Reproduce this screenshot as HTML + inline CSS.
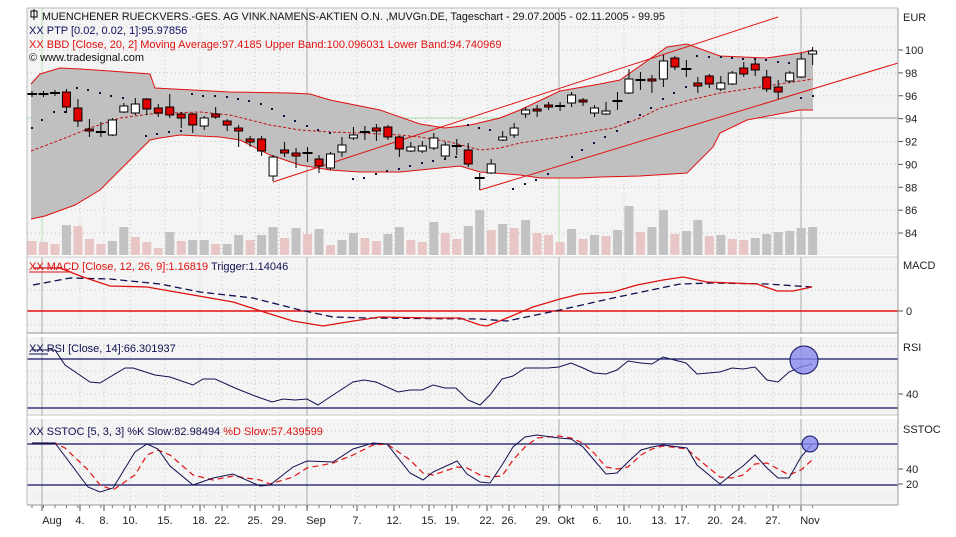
<!DOCTYPE html>
<html><head><meta charset="utf-8"><style>
html,body{margin:0;padding:0;background:#fff;}
svg{display:block;font-family:"Liberation Sans",sans-serif;}
</style></head><body>
<svg id="s" width="956" height="537" xmlns="http://www.w3.org/2000/svg">
<rect x="0" y="0" width="956" height="537" fill="#fff"/>
<rect x="27" y="8" width="871" height="497" fill="#f4f4f4"/>
<g id="g"></g>
</svg>
<script>
const g=document.getElementById('g');let h='';
const X=i=>32+i*11.48;
const pl=(pts,st,w,dash)=>`<polyline fill="none" stroke="${st}" stroke-width="${w||1}" ${dash?`stroke-dasharray="${dash}"`:''} points="${pts.map(p=>p.join(',')).join(' ')}"/>`;
const ticks=[[42,'Aug',52],[80,'4.',80],[104,'8.',104],[130,'10.',130],[165,'15.',165],[200,'18.',200],[222,'22.',222],[255,'25.',255],[279,'29.',279],[307,'Sep',316],[357,'7.',357],[394,'12.',394],[429,'15.',429],[452,'19.',452],[487,'22.',487],[509,'26.',509],[543,'29.',543],[559,'Okt',566],[597,'6.',597],[624,'10.',624],[659,'13.',659],[682,'17.',682],[715,'20.',715],[739,'24.',739],[773,'27.',773],[801,'Nov',810]];
for(const t of ticks){
 const major=['Aug','Sep','Okt','Nov'].includes(t[1]);
 h+=`<line x1="${t[0]}" y1="8" x2="${t[0]}" y2="505" stroke="${major?'#a8aca8':'#c8c8c8'}" stroke-width="1" ${major?'':'stroke-dasharray="1,3"'}/>`;
 h+=`<line x1="${t[0]}" y1="505" x2="${t[0]}" y2="511" stroke="#555"/>`;
 h+=`<text x="${t[2]}" y="524" font-size="11" text-anchor="middle" fill="#222">${t[1]}</text>`;
}
for(let i=0;i<69;i++)h+=`<line x1="${X(i)}" y1="505" x2="${X(i)}" y2="508" stroke="#777"/>`;
const py=p=>50+(100-p)*11.44;
for(let p=84;p<=102;p+=2){const y=py(p);h+=`<line x1="27" y1="${y}" x2="898" y2="${y}" stroke="#c8c8c8" stroke-dasharray="1,3"/>`;if(p<=100){h+=`<line x1="898" y1="${y}" x2="903" y2="${y}" stroke="#555"/><text x="905" y="${y+4}" font-size="11" fill="#222">${p}</text>`;}}
[269,290,325].forEach(y=>h+=`<line x1="27" y1="${y}" x2="898" y2="${y}" stroke="#c8c8c8" stroke-dasharray="1,3"/>`);
[346,371,383,394].forEach(y=>h+=`<line x1="27" y1="${y}" x2="898" y2="${y}" stroke="#c8c8c8" stroke-dasharray="1,3"/>`);
[431,457,469,496].forEach(y=>h+=`<line x1="27" y1="${y}" x2="898" y2="${y}" stroke="#c8c8c8" stroke-dasharray="1,3"/>`);
h+=`<line x1="27" y1="118" x2="559" y2="118" stroke="#a8e0a8"/><line x1="559" y1="118" x2="898" y2="118" stroke="#a0a0a0"/><line x1="42" y1="8" x2="42" y2="255" stroke="#b8e0b8"/><line x1="559" y1="118" x2="559" y2="255" stroke="#b8e0b8"/>`;
const vol=[241,242,244,225,226,239,244,241,227,237,242,248,232,241,240,240,244,244,235,240,235,227,238,228,234,229,245,240,233,238,241,234,227,240,242,222,233,239,226,210,230,224,228,220,233,235,242,229,239,235,236,230,206,232,227,210,234,231,220,236,235,239,240,238,234,232,231,228,227];
const vc=[1,1,1,0,1,1,1,0,0,1,1,1,0,1,0,0,1,0,0,1,0,0,1,0,1,0,1,0,0,1,1,0,0,1,1,0,1,1,0,0,1,0,1,0,1,1,1,0,1,0,1,0,0,1,0,0,1,0,0,1,0,1,1,0,0,0,0,0,0];
vol.forEach((v,i)=>h+=`<rect x="${X(i)-4.5}" y="${v}" width="9" height="${255-v}" fill="${vc[i]?'#e8c6c6':'#c2c2c2'}"/>`);
const up=[[31,84],[40,74],[60,68],[80,69],[110,71],[150,74],[155,88],[230,92],[290,93],[310,94],[330,100],[380,110],[420,124],[445,128],[470,125],[500,118],[520,110],[560,91],[600,84],[620,80],[667,47],[687,44],[720,56],[767,58],[800,53],[813,50]];
const lo=[[31,219],[45,216],[75,205],[100,190],[125,165],[150,140],[160,138],[180,135],[220,137],[240,140],[270,155],[300,165],[330,170],[360,172],[400,172],[440,168],[460,166],[480,172],[520,175],[540,178],[580,178],[600,177],[640,176],[687,173],[713,147],[720,133],[747,120],[800,110],[813,110]];
const mid=[[31,151],[60,140],[90,128],[120,118],[150,114],[170,113],[200,112],[230,115],[270,125],[300,130],[330,132],[360,133],[400,135],[420,137],[450,142],[480,150],[500,148],[520,143],[560,137],[600,130],[613,128],[640,118],[660,108],[690,100],[720,93],[760,87],[800,81],[813,79]];
h+=`<polygon fill="#c0c0c0" points="${up.concat(lo.slice().reverse()).map(p=>p.join(',')).join(' ')}"/>`;
h+=pl(up,'#e01010',1)+pl(lo,'#e01010',1)+pl(mid,'#c01010',1,'3,2');
h+=`<line x1="273" y1="182" x2="778" y2="17" stroke="#e01010"/><line x1="480" y1="190" x2="898" y2="63" stroke="#e01010"/>`;
const dots=[[32,128],[42,120],[54,112],[65,112],[77,88],[88,90],[100,93],[111,96],[123,98],[146,136],[157,134],[169,132],[181,131],[192,94],[203,96],[215,96],[227,97],[238,99],[249,101],[261,104],[272,109],[284,116],[295,121],[307,126],[318,130],[330,133],[353,179],[364,178],[376,174],[387,171],[399,169],[410,166],[422,163],[433,161],[445,159],[456,157],[468,125],[479,128],[490,130],[513,189],[525,184],[536,180],[548,174],[572,157],[582,150],[594,143],[605,137],[617,131],[628,122],[640,115],[651,108],[663,99],[674,93],[686,87],[697,56],[709,57],[721,57],[732,58],[743,59],[755,59],[766,60],[778,62],[789,63],[801,98],[813,96]];
dots.forEach(d=>h+=`<rect x="${d[0]-1}" y="${d[1]-1}" width="2" height="2" fill="#101040"/>`);
const c=[['d',94,94,91,97],['d',94,94,91,97],['d',93,93,90,96],['r',92,107,89,113],['r',108,121,99,127],['r',129,131,119,137],['d',132,132,122,137],['w',120,135,118,136],['w',106,112,103,113],['w',104,113,98,115],['r',99,109,98,115],['r',108,113,104,117],['r',107,115,94,118],['r',114,118,112,128],['r',114,125,113,133],['w',118,126,116,130],['r',114,117,107,119],['r',121,125,119,131],['r',128,131,125,147],['r',139,142,136,147],['r',139,151,136,156],['w',157,176,155,181],['r',150,153,142,157],['r',153,156,148,168],['d',153,153,147,162],['r',159,166,155,173],['w',154,168,152,170],['w',145,152,137,157],['w',135,138,127,140],['d',132,132,126,140],['r',128,131,124,141],['r',127,137,125,140],['r',137,149,136,157],['w',147,151,142,152],['w',146,151,141,153],['w',138,148,133,150],['w',145,156,142,160],['d',146,146,139,155],['r',150,164,143,167],['d',178,178,173,190],['w',164,173,159,174],['w',137,140,131,141],['w',128,135,123,138],['w',110,114,107,118],['r',109,110,105,117],['r',105,107,102,110],['d',106,106,102,111],['w',95,103,92,107],['r',100,102,98,106],['w',108,113,105,117],['w',111,114,102,115],['d',101,101,92,110],['w',79,93,69,94],['d',80,80,72,90],['r',79,81,75,93],['w',61,79,55,87],['r',58,67,56,70],['d',69,69,60,77],['r',83,86,77,93],['r',76,84,74,88],['w',83,89,76,91],['w',73,84,71,85],['r',68,74,62,77],['r',64,70,59,76],['r',77,89,70,92],['r',87,92,80,99],['w',73,81,71,83],['w',59,77,53,78],['w',51,54,47,65]];
c.forEach((k,i)=>{const x=X(i);h+=`<line x1="${x}" y1="${k[3]}" x2="${x}" y2="${k[4]}" stroke="#000"/>`;
 if(k[0]=='d')h+=`<line x1="${x-5}" y1="${k[1]}" x2="${x+5}" y2="${k[1]}" stroke="#000" stroke-width="2"/>`;
 else h+=`<rect x="${x-4}" y="${k[1]}" width="8" height="${Math.max(2,k[2]-k[1])}" fill="${k[0]=='w'?'#fff':'#e00000'}" stroke="#000" stroke-width="1"/>`;});
h+=`<rect x="27" y="255" width="871" height="2" fill="#fff"/><line x1="27" y1="257" x2="898" y2="257" stroke="#ccc"/><line x1="27" y1="333" x2="898" y2="333" stroke="#999"/><rect x="27" y="334" width="871" height="3" fill="#fff"/><line x1="27" y1="415" x2="898" y2="415" stroke="#ccc"/><rect x="27" y="416" width="871" height="3" fill="#fff"/>`;
h+=`<line x1="27" y1="311" x2="898" y2="311" stroke="#e01010" stroke-width="1.5"/>`;
h+=pl([[33,285],[70,278],[110,279],[160,284],[200,292],[253,298],[300,310],[333,317],[367,318],[480,319],[507,321],[560,310],[613,298],[680,284],[713,283],[767,284],[812,287]],'#101050',1.3,'7,4');
h+=pl([[33,268],[60,268],[83,277],[110,286],[147,287],[193,295],[233,302],[267,313],[293,321],[323,326],[347,322],[380,317],[433,318],[460,318],[480,325],[487,326],[507,318],[533,307],[560,299],[580,294],[613,292],[637,285],[663,280],[683,277],[707,282],[733,283],[757,284],[777,291],[793,291],[812,287]],'#e01010',1.3);
h+=`<text x="903" y="269" font-size="11" fill="#222">MACD</text><line x1="898" y1="311" x2="903" y2="311" stroke="#555"/><text x="906" y="315" font-size="11" fill="#222">0</text>`;
h+=`<text x="29" y="270" font-size="11" fill="#e01010">XX MACD [Close, 12, 26, 9]:1.16819 <tspan fill="#101050">Trigger:1.14046</tspan></text><line x1="29" y1="272" x2="72" y2="272" stroke="#e01010"/>`;
h+=`<line x1="27" y1="359" x2="898" y2="359" stroke="#101060" stroke-width="1.3"/><line x1="27" y1="408" x2="898" y2="408" stroke="#101060" stroke-width="1.3"/>`;
h+=pl([[32,350],[55,350],[65,365],[90,382],[100,383],[125,368],[133,368],[155,375],[170,377],[193,385],[203,379],[215,379],[235,388],[255,396],[272,402],[283,399],[295,400],[307,399],[318,405],[330,397],[353,382],[364,380],[376,382],[398,392],[410,390],[422,390],[433,385],[445,388],[456,388],[468,400],[480,405],[490,395],[502,379],[513,376],[525,368],[548,368],[559,367],[571,363],[583,368],[594,373],[606,374],[617,370],[628,361],[641,363],[652,364],[663,357],[686,363],[697,374],[720,372],[732,368],[743,369],[755,367],[767,380],[778,382],[789,372],[801,367],[812,364]],'#101050',1);
h+=`<circle cx="804" cy="360" r="14" fill="#8888ee" fill-opacity="0.8" stroke="#101060"/>`;
h+=`<text x="29" y="352" font-size="11" fill="#101050">XX RSI [Close, 14]:66.301937</text><line x1="29" y1="354" x2="48" y2="354" stroke="#101050"/>`;
h+=`<text x="903" y="351" font-size="11" fill="#222">RSI</text><line x1="898" y1="394" x2="903" y2="394" stroke="#555"/><text x="906" y="398" font-size="11" fill="#222">40</text>`;
h+=`<line x1="27" y1="444" x2="898" y2="444" stroke="#101060" stroke-width="1.3"/><line x1="27" y1="485" x2="898" y2="485" stroke="#101060" stroke-width="1.3"/>`;
h+=pl([[32,443],[55,443],[65,448],[88,470],[100,485],[113,490],[135,475],[147,455],[158,450],[170,455],[193,475],[213,480],[233,476],[260,480],[270,484],[293,477],[307,468],[333,463],[353,455],[373,445],[387,444],[410,460],[423,473],[433,475],[457,467],[467,468],[480,475],[490,477],[502,476],[513,460],[525,447],[537,438],[559,436],[571,438],[583,443],[594,453],[606,467],[617,469],[628,467],[641,455],[652,449],[663,446],[687,449],[697,458],[720,477],[732,478],[743,475],[755,464],[767,463],[778,469],[789,475],[801,470],[812,460]],'#e01010',1.2,'6,4');
h+=pl([[32,443],[55,443],[88,487],[100,492],[113,488],[135,452],[147,444],[158,449],[170,466],[193,485],[213,478],[233,474],[260,486],[270,485],[293,467],[307,461],[333,462],[353,449],[373,443],[387,444],[410,473],[423,480],[433,472],[457,461],[467,474],[480,482],[490,483],[502,465],[513,447],[525,437],[537,435],[559,438],[571,439],[583,447],[594,460],[606,474],[617,473],[628,462],[641,450],[652,447],[663,445],[687,448],[697,465],[720,484],[732,474],[743,466],[755,455],[767,468],[778,478],[789,478],[801,457],[812,444]],'#101050',1);
h+=`<circle cx="810" cy="444" r="8" fill="#8888ee" fill-opacity="0.8" stroke="#101060"/>`;
h+=`<text x="29" y="435" font-size="11" fill="#101050">XX SSTOC [5, 3, 3] %K Slow:82.98494 <tspan fill="#e01010">%D Slow:57.439599</tspan></text>`;
h+=`<text x="903" y="433" font-size="11" fill="#222">SSTOC</text><line x1="898" y1="469" x2="903" y2="469" stroke="#555"/><text x="906" y="473" font-size="11" fill="#222">40</text><line x1="898" y1="484" x2="903" y2="484" stroke="#555"/><text x="906" y="488" font-size="11" fill="#222">20</text>`;
h+=`<rect x="31" y="11" width="6" height="6" fill="#fff" stroke="#000"/><line x1="34" y1="9" x2="34" y2="20" stroke="#000"/>`;
h+=`<text x="42" y="20" font-size="10.6" fill="#111" textLength="623" lengthAdjust="spacingAndGlyphs">MUENCHENER RUECKVERS.-GES. AG VINK.NAMENS-AKTIEN O.N. ,MUVGn.DE, Tageschart - 29.07.2005 - 02.11.2005 - 99.95</text>`;
h+=`<text x="29" y="34" font-size="11" fill="#101060">XX PTP [0.02, 0.02, 1]:95.97856</text>`;
h+=`<text x="29" y="48" font-size="11" fill="#e01010">XX BBD [Close, 20, 2] Moving Average:97.4185 Upper Band:100.096031 Lower Band:94.740969</text>`;
h+=`<text x="29" y="61" font-size="11" fill="#111">© www.tradesignal.com</text>`;
h+=`<text x="903" y="21" font-size="11" fill="#222">EUR</text>`;
h+=`<line x1="898" y1="8" x2="898" y2="505" stroke="#999"/><line x1="27" y1="505" x2="898" y2="505" stroke="#999"/><line x1="27" y1="8" x2="27" y2="505" stroke="#bbb"/><line x1="27" y1="8" x2="898" y2="8" stroke="#bbb"/>`;
g.innerHTML=h;
</script>
</body></html>
